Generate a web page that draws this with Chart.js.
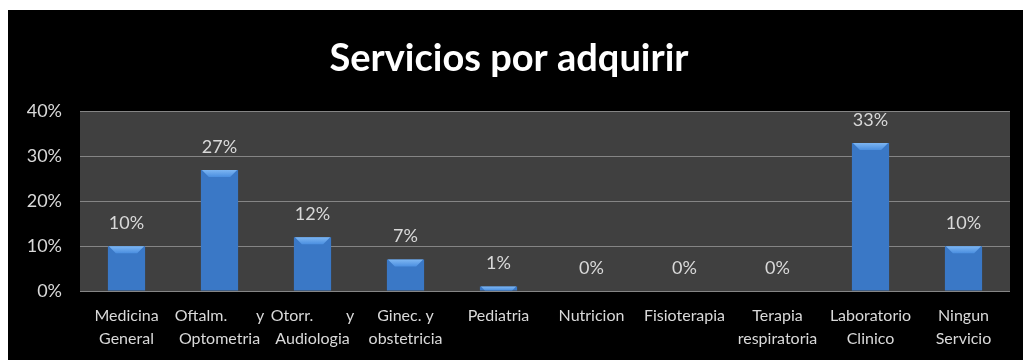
<!DOCTYPE html>
<html>
<head>
<meta charset="utf-8">
<script src="https://cdn.jsdelivr.net/npm/chart.js@4.4.1/dist/chart.umd.min.js"></script>
<style>
  html, body { margin: 0; padding: 0; background: #fff; }
  #wrap { position: absolute; left: 8px; top: 10px; width: 1015px; height: 350px; background: #000; }
</style>
</head>
<body>
<div id="wrap"><canvas id="myChart"></canvas></div>
<script>
"use strict";

// chart data
const categories = [
  ["Medicina", "General"],
  ["Oftalm.       y", "Optometria"],
  ["Otorr.        y", "Audiologia"],
  ["Ginec. y", "obstetricia"],
  "Pediatria",
  "Nutricion",
  "Fisioterapia",
  ["Terapia", "respiratoria"],
  ["Laboratorio", "Clinico"],
  ["Ningun", "Servicio"],
];
const percentages = [10, 27, 12, 7, 1, 0, 0, 0, 33, 10];
const yTicks = [0, 10, 20, 30, 40];

const textGray = "#d9d9d9";

// horizontal blue gradient for each bar
function barFill(context) {
  const chart = context.chart;
  const el = chart.getDatasetMeta(0).data[context.dataIndex];
  if (!el || el.width === undefined || isNaN(el.x)) return "#3a78c6";
  const left = el.x - el.width / 2;
  const g = chart.ctx.createLinearGradient(left, 0, left + el.width, 0);
  g.addColorStop(0, "#1f4a86");
  g.addColorStop(0.08, "#3066b2");
  g.addColorStop(0.2, "#3b7acb");
  g.addColorStop(0.5, "#4084d4");
  g.addColorStop(0.8, "#3b7acb");
  g.addColorStop(0.92, "#3066b2");
  g.addColorStop(1, "#1f4a86");
  return g;
}

// plot area background
const plotBackground = {
  id: "plotBackground",
  beforeDraw(chart) {
    const { ctx, chartArea } = chart;
    ctx.save();
    ctx.fillStyle = "#404040";
    ctx.fillRect(chartArea.left, chartArea.top, chartArea.right - chartArea.left, chartArea.bottom - chartArea.top);
    ctx.restore();
  },
};

// chamfered top on bars and value labels
const barExtras = {
  id: "barExtras",
  afterDatasetsDraw(chart) {
    const { ctx } = chart;
    const meta = chart.getDatasetMeta(0);
    ctx.save();
    meta.data.forEach((bar, i) => {
      const left = bar.x - bar.width / 2;
      const right = bar.x + bar.width / 2;
      const h = Math.min(7, bar.base - bar.y);
      if (h > 0) {
        const g = ctx.createLinearGradient(0, bar.y, 0, bar.y + h);
        g.addColorStop(0, "#7db6f2");
        g.addColorStop(1, "#4b8fe0");
        ctx.fillStyle = g;
        ctx.beginPath();
        ctx.moveTo(left + 1, bar.y);
        ctx.lineTo(right - 1, bar.y);
        ctx.lineTo(right - 1 - h, bar.y + h);
        ctx.lineTo(left + 1 + h, bar.y + h);
        ctx.closePath();
        ctx.fill();
      }
      ctx.fillStyle = textGray;
      ctx.font = "18px Lato";
      ctx.textAlign = "center";
      ctx.textBaseline = "middle";
      ctx.fillText(percentages[i] + "%", bar.x, bar.y - 23);
    });
    ctx.restore();
  },
};

const ctx = document.getElementById("myChart").getContext("2d");
const myChart = new Chart(ctx, {
  type: "bar",
  data: {
    labels: categories,
    datasets: [
      {
        data: percentages,
        backgroundColor: barFill,
        borderWidth: 0,
        barPercentage: 1,
        categoryPercentage: 0.4,
      },
    ],
  },
  options: {
    responsive: true,
    maintainAspectRatio: false,
    animation: false,
    layout: { padding: { left: 0, right: 13, top: 0, bottom: 0 } },
    plugins: {
      legend: { display: false },
      tooltip: { enabled: false },
      title: {
        display: true,
        text: "Servicios por adquirir",
        color: "#ffffff",
        font: { family: "Lato", size: 38, weight: "bold" },
        padding: { top: 26, bottom: 30 },
      },
    },
    scales: {
      x: {
        grid: { display: false, drawTicks: false },
        border: { display: false },
        ticks: {
          color: textGray,
          font: { family: "Lato", size: 16, lineHeight: 1.45 },
          maxRotation: 0,
          autoSkip: false,
          padding: 13,
        },
        afterFit(scale) {
          scale.height = 69;
        },
      },
      y: {
        min: 0,
        max: 40,
        afterBuildTicks(scale) {
          scale.ticks = yTicks.map((v) => ({ value: v }));
        },
        grid: { color: "#858585", lineWidth: 1, drawTicks: false },
        border: { display: false },
        ticks: {
          color: textGray,
          font: { family: "Lato", size: 18 },
          padding: 18,
          callback: (v) => v + "%",
        },
        afterFit(scale) {
          scale.width = 72;
        },
      },
    },
  },
  plugins: [plotBackground, barExtras],
});
</script>
</body>
</html>
